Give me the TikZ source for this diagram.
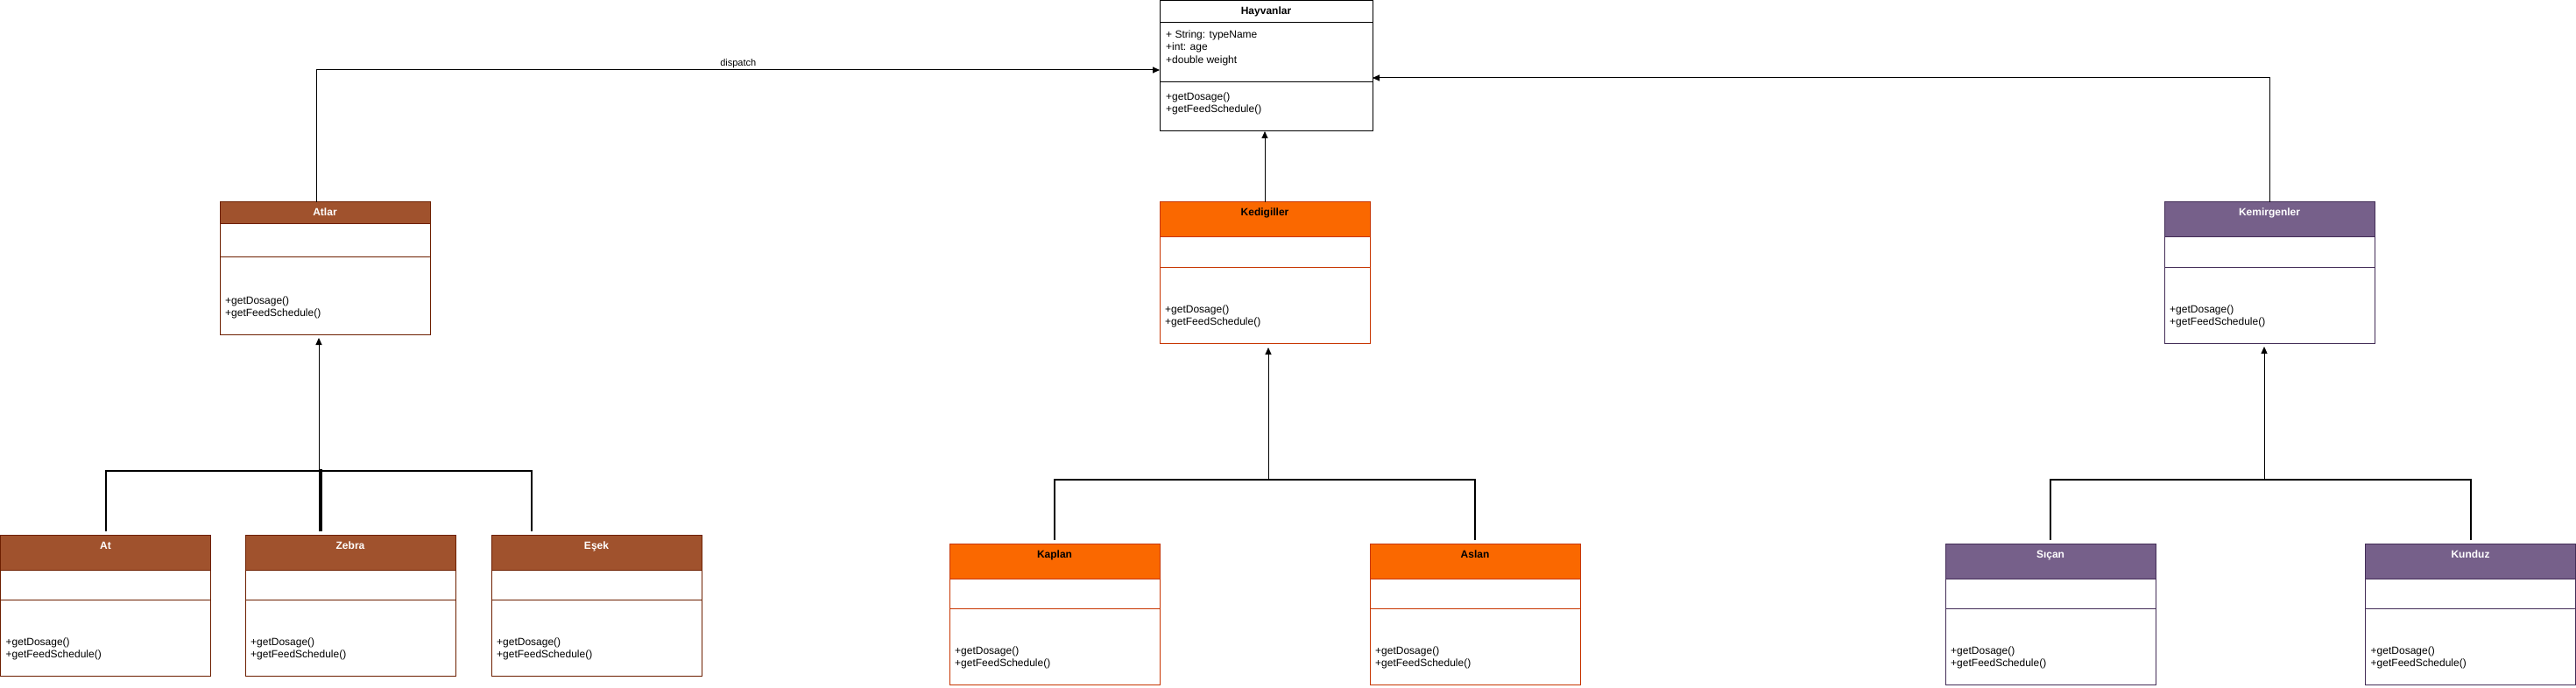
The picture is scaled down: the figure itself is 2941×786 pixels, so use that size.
\documentclass[tikz,border=0pt]{standalone}
\usepackage{fontspec}
\setmainfont{Liberation Sans}
\usetikzlibrary{arrows.meta,calc}
\definecolor{brF}{HTML}{A0522D}\definecolor{brS}{HTML}{6D1F00}\colorlet{brT}{white}
\definecolor{orF}{HTML}{FA6800}\definecolor{orS}{HTML}{C73500}\colorlet{orT}{black}
\definecolor{puF}{HTML}{76608A}\definecolor{puS}{HTML}{432D57}\colorlet{puT}{white}
\tikzset{
  clsbox/.style={anchor=north west, minimum width=240pt, inner sep=0pt, outer sep=0pt, fill=white, line width=1pt},
  methtext/.style={anchor=west, align=left, font=\fontsize{12}{14}\selectfont, inner sep=0pt},
  titletext/.style={font=\bfseries\fontsize{12}{14}\selectfont, inner sep=0pt, text height=8.6pt, text depth=2.6pt},
  dlabel/.style={font=\fontsize{11}{13}\selectfont, inner sep=0pt},
  conn/.style={draw=black, line width=1pt},
  tri/.style={-{Triangle[width=7pt,length=8pt]}},
  barline/.style={draw=black, line width=2pt},
  thickbar/.style={draw=black, line width=3.5pt},
}
\newcommand\umlcls[8]{%
  \node[clsbox, draw=#7S, minimum height=#6] (#1) at (#2,#3) {};
  \fill[#7F] (#1.north west) rectangle ([yshift=-#4pt]#1.north east);
  \draw[#7S, line width=1pt] ([yshift=-#4pt]#1.north west) -- ([yshift=-#4pt]#1.north east);
  \draw[#7S, line width=1pt] ([yshift=-#5pt]#1.north west) -- ([yshift=-#5pt]#1.north east);
  \draw[#7S, line width=1pt] (#1.north west) rectangle (#1.south east);
  \node[titletext, text=#7T] (#1-t) at ([yshift=-13pt]#1.north) {#8};
  \node[methtext] (#1-m) at ([xshift=6pt,yshift=31pt]#1.south west) {+getDosage()\\+getFeedSchedule()};
}
\begin{document}
\begin{tikzpicture}[x=1pt,y=-1pt]
\useasboundingbox (0,0) rectangle (2941,786);
% root class
\node[clsbox, draw=black, minimum width=243pt, minimum height=149pt] (hay) at (1324,1) {};
\draw[line width=1pt] ([yshift=-25pt]hay.north west) -- ([yshift=-25pt]hay.north east);
\draw[line width=1pt] ([yshift=-93pt]hay.north west) -- ([yshift=-93pt]hay.north east);
\node[titletext] (hay-t) at ([yshift=-13pt]hay.north) {Hayvanlar};
\node[methtext, font=\fontsize{12}{14.5}\selectfont] (hay-a) at ([xshift=7pt,yshift=-53.5pt]hay.north west) {+ String: typeName\\+int: age\\+double weight};
\node[methtext] (hay-m) at ([xshift=7pt,yshift=31.5pt]hay.south west) {+getDosage()\\+getFeedSchedule()};
% second level
\umlcls{atlar}{251}{231}{25}{62}{151}{br}{Atlar}
\umlcls{kedi}{1324}{231}{40}{74}{161}{or}{Kedigiller}
\umlcls{kemi}{2471}{231}{40}{74}{161}{pu}{Kemirgenler}
% leaves
\umlcls{atn}{0.5}{611}{40}{74}{161}{br}{At}
\umlcls{zebra}{280}{611}{40}{74}{161}{br}{Zebra}
\umlcls{esek}{561}{611}{40}{74}{161}{br}{Eşek}
\umlcls{kaplan}{1084}{621}{40}{74}{161}{or}{Kaplan}
\umlcls{aslan}{1564}{621}{40}{74}{161}{or}{Aslan}
\umlcls{sican}{2221}{621}{40}{74}{161}{pu}{Sıçan}
\umlcls{kunduz}{2700.5}{621}{40}{74}{161}{pu}{Kunduz}
% top connectors
\draw[conn, tri] ([xshift=-9.5pt]atlar.north) |- node[pos=0.75, above=2pt, dlabel] {dispatch} ([yshift=-4.5pt]hay.west);
\draw[conn, tri] (kemi.north) |- ([yshift=-13.5pt]hay.east);
\draw[conn, tri] (kedi.north) -- (kedi.north |- hay.south);
% horse branch
\coordinate (j1) at (364,538);
\draw[conn, tri, shorten >=4pt] (j1) -- (j1 |- atlar.south);
\draw[barline] ([yshift=4pt]atn.north) |- (j1);
\draw[barline] ([xshift=46pt,yshift=4pt]esek.north west) |- (j1);
\draw[thickbar] ([xshift=86pt,yshift=4pt]zebra.north west) |- (j1);
% cat branch
\coordinate (j2) at (1448,548);
\draw[conn, tri, shorten >=5pt] (j2) -- (j2 |- kedi.south);
\draw[barline] ([yshift=4pt]kaplan.north) |- (j2);
\draw[barline] ([yshift=4pt]aslan.north) |- (j2);
% rodent branch
\coordinate (j3) at (2585,548);
\draw[conn, tri, shorten >=4pt] (j3) -- (j3 |- kemi.south);
\draw[barline] ([yshift=4pt]sican.north) |- (j3);
\draw[barline] ([yshift=4pt]kunduz.north) |- (j3);
\end{tikzpicture}
\end{document}
